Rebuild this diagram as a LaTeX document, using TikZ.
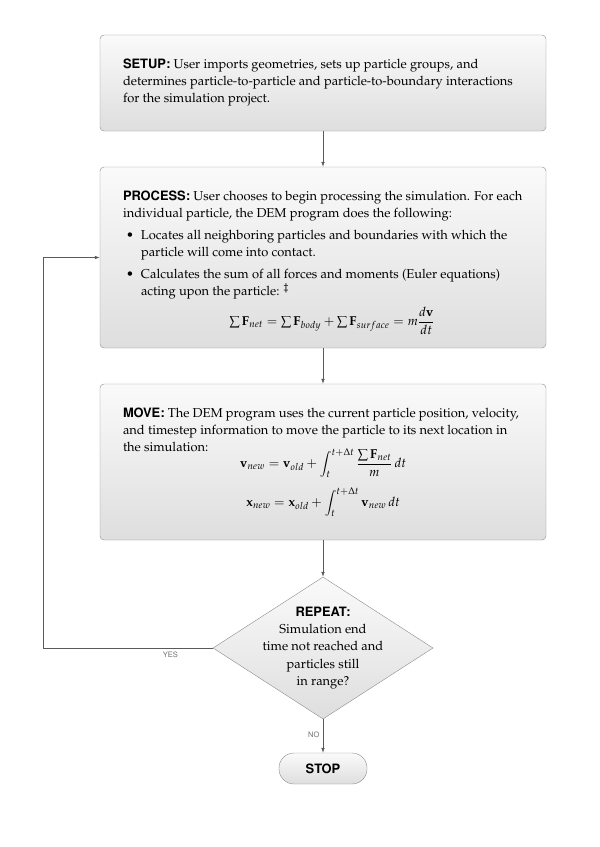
\documentclass[tikz,border=0pt]{standalone}
\usepackage[T1]{fontenc}
\usepackage{mathpazo}
\usepackage[scaled=1.0]{helvet}
\usepackage{amsmath}
\usepackage{xcolor}
\usepackage{tikz}
\usetikzlibrary{shapes.geometric,arrows.meta,positioning,calc}
\definecolor{boxborder}{RGB}{140, 140, 140}
\definecolor{boxtop}{RGB}{250, 250, 250}
\definecolor{boxbottom}{RGB}{222, 222, 222}
\definecolor{flowline}{RGB}{90, 90, 90}
\definecolor{labelgray}{RGB}{110, 110, 110}
\newcommand{\steptitle}[1]{{\sffamily\bfseries #1}}

\begin{document}
\begin{tikzpicture}[
    x=1pt, y=-1pt,
    every node/.style={font=\fontsize{12.9}{17.3}\selectfont},
    stepbox/.style={rectangle, draw=boxborder, rounded corners=4pt, inner sep=0pt,
        top color=boxtop, bottom color=boxbottom, minimum width=446pt},
    decision/.style={diamond, draw=boxborder, inner sep=0pt, aspect=1.55,
        top color=boxtop, bottom color=boxbottom, minimum width=220pt, minimum height=142pt},
    terminal/.style={rectangle, draw=boxborder, rounded corners=15pt, inner sep=0pt,
        top color=boxtop, bottom color=boxbottom, minimum width=88pt, minimum height=31pt},
    flow/.style={draw=flowline, line width=0.6pt, -{Latex[length=5pt,width=3.6pt]}},
    answer/.style={font=\sffamily\fontsize{7.5}{9}\selectfont, text=labelgray}
]
\useasboundingbox (0,0) rectangle (600,847);

% Setup
\node[stepbox] (setup) at (323,83) {\parbox[c][96pt][t]{400pt}{\raggedright\lineskiplimit=-100pt
\rule{0pt}{33pt}\steptitle{SETUP:} User imports geometries, sets up particle groups, and\\
determines particle-to-particle and particle-to-boundary interactions\\
for the simulation project.}};

% Process
\node[stepbox] (process) at (323,257.5) {\parbox[c][181pt][t]{400pt}{\raggedright\lineskiplimit=-100pt
\rule{0pt}{33.5pt}\steptitle{PROCESS:} User chooses to begin processing the simulation. For each\\
individual particle, the DEM program does the following:\\[4.5pt]
\makebox[18pt][l]{\hspace{3pt}\textbullet}Locates all neighboring particles and boundaries with which the\\
\hspace*{18pt}particle will come into contact.\\[4pt]
\makebox[18pt][l]{\hspace{3pt}\textbullet}Calculates the sum of all forces and moments (Euler equations)\\
\hspace*{18pt}acting upon the particle: $^\ddagger$\\[12.7pt]
\hspace*{18pt}\makebox[382pt]{$\textstyle\sum\mathbf{F}_{net}=\sum\mathbf{F}_{body}+\sum\mathbf{F}_{surface}=m\dfrac{d\mathbf{v}}{dt}$}}};

% Move
\node[stepbox] (move) at (323,462) {\parbox[c][156pt][t]{400pt}{\raggedright\lineskiplimit=-100pt
\rule{0pt}{33pt}\steptitle{MOVE:} The DEM program uses the current particle position, velocity,\\
and timestep information to move the particle to its next location in\\
the simulation:\\[-1.3pt]
\makebox[400pt]{$\displaystyle\mathbf{v}_{new}=\mathbf{v}_{old}+\int_t^{t+\Delta t}\frac{\sum\mathbf{F}_{net}}{m}\,dt$}\\[21.7pt]
\makebox[400pt]{$\displaystyle\mathbf{x}_{new}=\mathbf{x}_{old}+\int_t^{t+\Delta t}\mathbf{v}_{new}\,dt$}}};

% Repeat test
\node[decision, label={[align=center]center:\steptitle{REPEAT:}\\Simulation end\\time not reached and\\particles still\\in range?}] (repeat) at (323,648) {};

% Stop
\node[terminal] (stop) at (323,768.5) {\steptitle{STOP}};

% Connectors
\coordinate (loop) at (43,648);
\draw[flow] (setup) -- (process);
\draw[flow] (process) -- (move);
\draw[flow] (move) -- (repeat);
\draw[flow] (repeat) -- node[answer, left, pos=0.45] {NO} (stop);
\draw[flow] (repeat.west) -- node[answer, below, pos=0.25] {YES} (loop) |- (process.west);

\end{tikzpicture}
\end{document}
